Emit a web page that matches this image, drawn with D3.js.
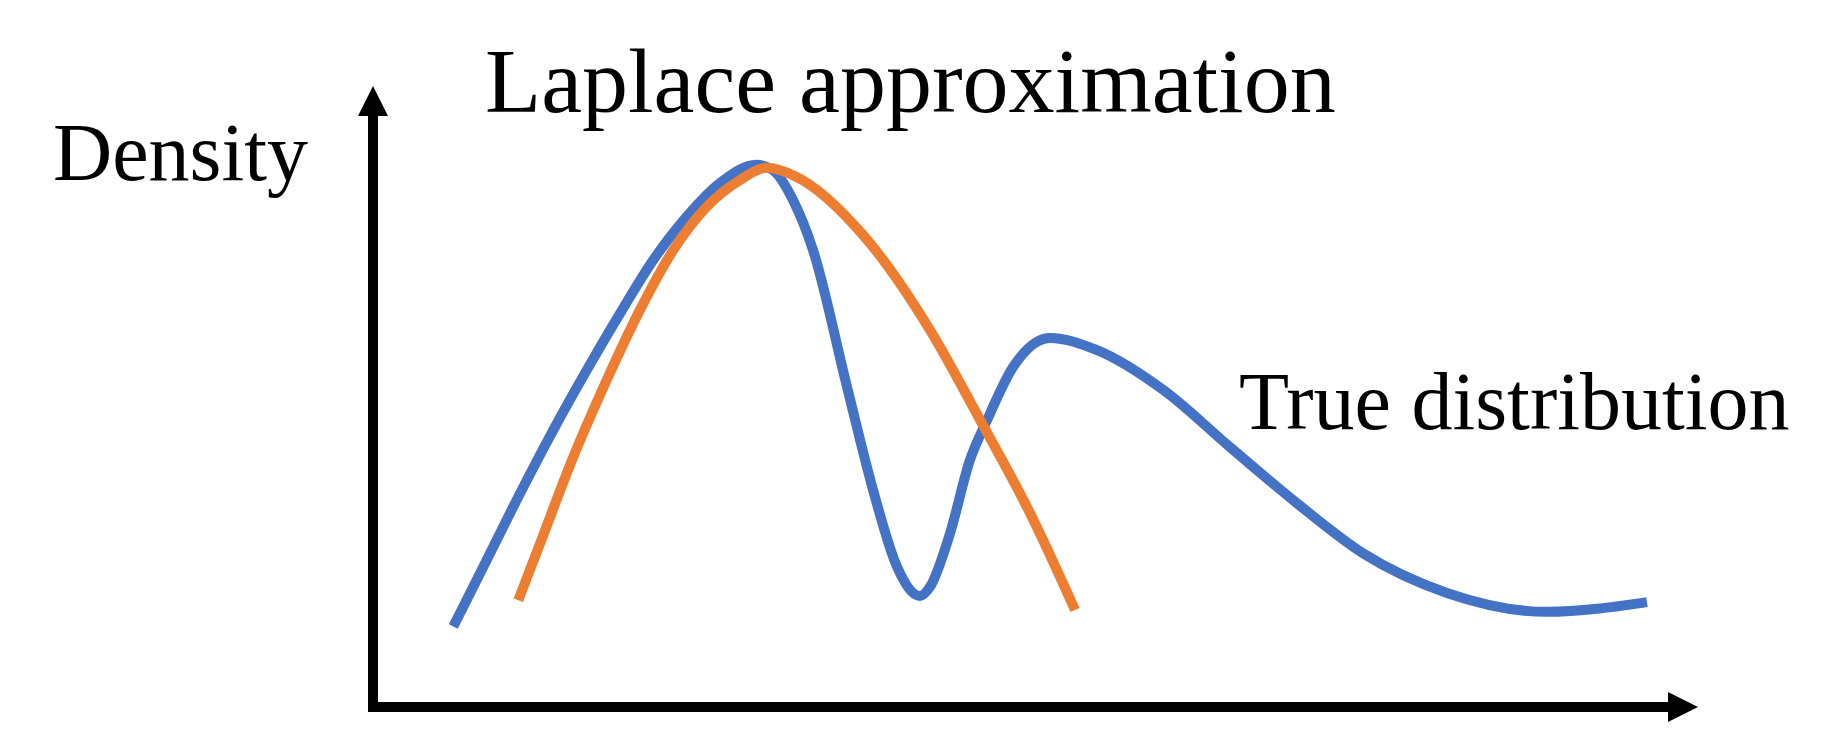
<!DOCTYPE html>
<html>
<head>
<meta charset="utf-8">
<script src="https://cdn.jsdelivr.net/npm/d3@7"></script>
<style>
  html, body { margin: 0; padding: 0; background: #fff; }
  svg { display: block; }
  .label { font-family: "Liberation Serif", "Times New Roman", serif; fill: #000; }
</style>
</head>
<body>
<div class="chart"></div>
<script>
// true distribution (blue)
const trueX = [0.613, 0.868, 1.122, 1.376, 1.631, 1.885, 2.14, 2.395, 2.649, 2.929, 3.053, 3.206, 3.359, 3.618, 3.817, 4.0, 4.176, 4.252, 4.405, 4.557, 4.687, 4.885, 5.168, 5.527, 6.031, 6.542, 7.053, 7.557, 8.198, 8.962, 9.725];
const trueY = [0.132, 0.241, 0.35, 0.454, 0.552, 0.645, 0.733, 0.804, 0.859, 0.889, 0.88, 0.831, 0.749, 0.525, 0.356, 0.23, 0.182, 0.197, 0.285, 0.405, 0.47, 0.557, 0.605, 0.585, 0.52, 0.426, 0.334, 0.252, 0.187, 0.156, 0.172];

// laplace approximation (orange)
const lapX = [1.109, 1.275, 1.529, 1.784, 2.038, 2.292, 2.547, 2.802, 3.005, 3.234, 3.74, 4.252, 4.656, 5.015, 5.359];
const lapY = [0.175, 0.268, 0.41, 0.536, 0.651, 0.749, 0.82, 0.864, 0.884, 0.869, 0.774, 0.618, 0.462, 0.318, 0.159];

const labels = ["Density", "Laplace approximation", "True distribution"];

const width = 1842, height = 742;
const blue = "#4472C4", orange = "#ED7D31";

// plot area, origin sits where the two axes meet
const x = d3.scaleLinear().domain([0, 10]).range([373, 1683]);
const y = d3.scaleLinear().domain([0, 1]).range([707, 97]);

const svg = d3.select(".chart")
  .append("svg")
    .attr("width", width)
    .attr("height", height);

// axes: thick black lines with triangle heads
const axisW = 10, head = 30, headHalf = 15;
const xTip = x.range()[1] + 15;
const yTip = y.range()[1] - 11;

svg.append("line")
  .attr("x1", x(0)).attr("y1", y(0) + axisW / 2)
  .attr("x2", x(0)).attr("y2", yTip + head - 1)
  .attr("stroke", "#000").attr("stroke-width", axisW);

svg.append("path")
  .attr("d", `M${x(0)},${yTip} L${x(0) - headHalf},${yTip + head} L${x(0) + headHalf},${yTip + head} Z`)
  .attr("fill", "#000");

svg.append("line")
  .attr("x1", x(0) - axisW / 2).attr("y1", y(0))
  .attr("x2", xTip - head + 1).attr("y2", y(0))
  .attr("stroke", "#000").attr("stroke-width", axisW);

svg.append("path")
  .attr("d", `M${xTip},${y(0)} L${xTip - head},${y(0) - headHalf} L${xTip - head},${y(0) + headHalf} Z`)
  .attr("fill", "#000");

// curves
const line = d3.line()
  .x(d => x(d[0]))
  .y(d => y(d[1]))
  .curve(d3.curveMonotoneX);

const series = [
  {pts: d3.zip(trueX, trueY), col: blue},
  {pts: d3.zip(lapX, lapY), col: orange}
];

svg.selectAll(".curve")
  .data(series)
  .enter()
    .append("path")
      .attr("class", "curve")
      .attr("d", d => line(d.pts))
      .attr("fill", "none")
      .attr("stroke", d => d.col)
      .attr("stroke-width", 10)
      .attr("stroke-linecap", "butt");

// text labels
svg.append("text").attr("class", "label")
  .attr("x", 53).attr("y", 180)
  .style("font-size", "82px")
  .text(labels[0]);

svg.append("text").attr("class", "label")
  .attr("x", 485).attr("y", 112)
  .style("font-size", "92px")
  .text(labels[1]);

svg.append("text").attr("class", "label")
  .attr("x", 1239).attr("y", 429)
  .style("font-size", "82px")
  .text(labels[2]);
</script>
</body>
</html>
